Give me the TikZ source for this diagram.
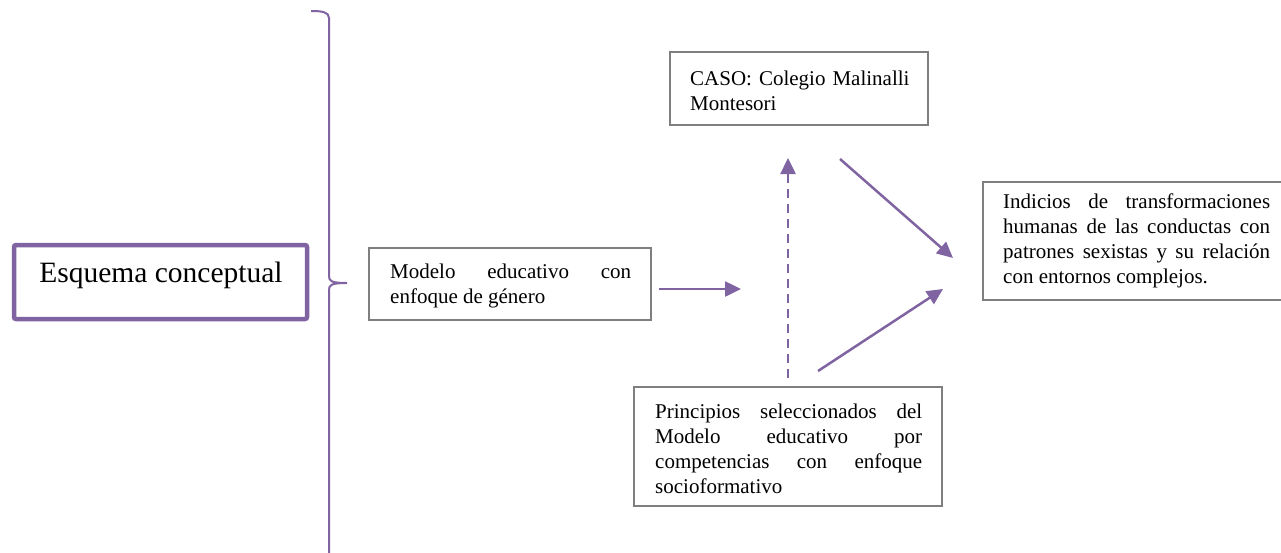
\documentclass[tikz,border=0pt]{standalone}
\usepackage{fontspec}
\setmainfont{Liberation Serif}
\usetikzlibrary{arrows.meta}
\definecolor{lila}{HTML}{8064A2}
\definecolor{borde}{HTML}{7F7F7F}
\tikzset{
  caja/.style={draw=borde, line width=2pt, fill=white, inner sep=0pt},
  texto/.style={align=justify, font=\fontsize{21}{25}\selectfont, inner sep=0pt, anchor=base west},
  flecha/.style={draw=lila, line width=2.5pt, -{Triangle[length=16pt,width=15pt]}},
}
\begin{document}
\hyphenpenalty=10000
\begin{tikzpicture}[x=1pt,y=-1pt]
\useasboundingbox (0,0) rectangle (1281,552);
% main title box
\node[draw=lila, line width=4.5pt, rounded corners=2pt, minimum width=293pt, minimum height=74pt] (esq) at (160.5,282) {};
\node[font=\fontsize{29.5}{32}\selectfont, inner sep=0pt, anchor=base] (esqt) at (161,282) {Esquema conceptual};
% brace
\draw[lila, line width=2pt] (311,11) .. controls (322,11) and (329,12) .. (329,18)
  -- (329,276) .. controls (329,281) and (331,283) .. (347,283)
  .. controls (331,283) and (329,285) .. (329,290) -- (329,560);
% boxes
\node[caja, minimum width=282pt, minimum height=72pt] (mod) at (510,284) {};
\node[texto, text width=241pt] (modt) at (390,278) {Modelo educativo con\linebreak enfoque de género};
\node[caja, minimum width=258pt, minimum height=73pt] (caso) at (799,88.5) {};
\node[texto, text width=235pt, align=left] (casot) at (690,85) {CASO: Colegio Malinalli\\Montesori};
\node[caja, minimum width=308pt, minimum height=119pt] (prin) at (788,446.5) {};
\node[texto, text width=267pt] (print) at (655,418) {Principios seleccionados del\linebreak Modelo educativo por\linebreak competencias con enfoque\linebreak socioformativo};
\node[caja, minimum width=304pt, minimum height=118pt] (ind) at (1135,241) {};
\node[texto, text width=267pt] (indt) at (1003,208) {Indicios de transformaciones\linebreak humanas de las conductas con\linebreak patrones sexistas y su relación\linebreak con entornos complejos.};
% arrow endpoints
\coordinate (a1) at (659,289);
\coordinate (a2) at (741,289);
\coordinate (d1) at (788,378);
\coordinate (d2) at (788,158);
\coordinate (b1) at (840,159);
\coordinate (b2) at (953,258);
\coordinate (c1) at (818,371);
\coordinate (c2) at (943,289);
\draw[flecha] (a1) -- (a2);
\draw[flecha, dash pattern=on 9pt off 6pt] (d1) -- (d2);
\draw[flecha] (b1) -- (b2);
\draw[flecha] (c1) -- (c2);
\end{tikzpicture}
\end{document}
